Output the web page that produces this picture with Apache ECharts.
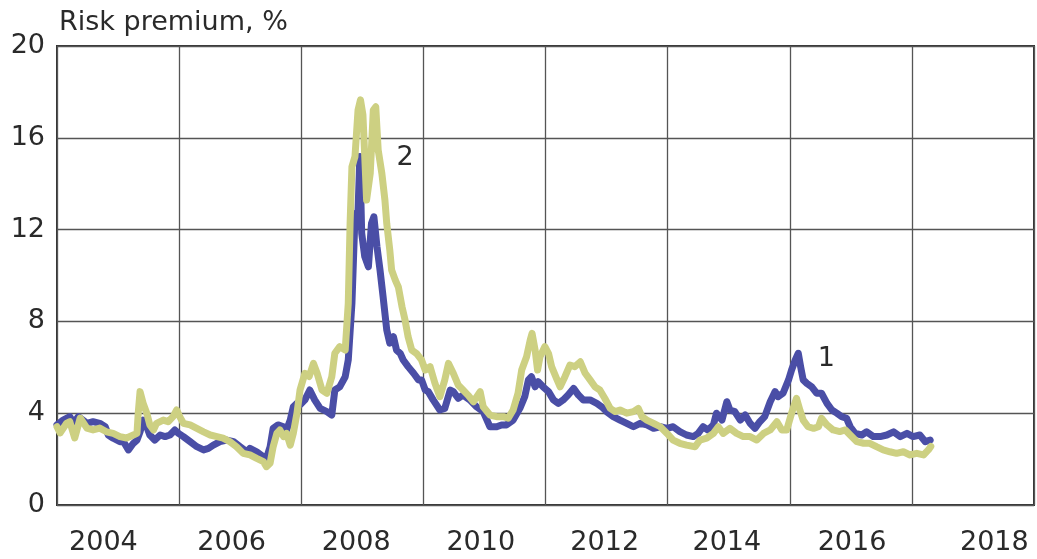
<!DOCTYPE html>
<html><head><meta charset="utf-8">
<script src="https://cdn.jsdelivr.net/npm/echarts@6.0.0/dist/echarts.min.js"></script>
<style>html,body{margin:0;padding:0;background:#fff}#c{width:1037px;height:559px}</style>
</head><body><div id="c"></div>
<script>
const yearLabels = ['2004','2006','2008','2010','2012','2014','2016','2018'];
const gridYears = [2003,2005,2007,2009,2011,2013,2015,2017,2019];
const yTickStep = 4;

// Series 1 (blue) [year, %]
const series1 = [
[2003.00,3.50],[2003.10,3.70],[2003.21,3.85],[2003.27,3.56],[2003.35,3.85],[2003.40,3.75],[2003.49,3.56],[2003.59,3.63],[2003.70,3.56],[2003.79,3.41],[2003.84,3.05],[2003.92,2.91],[2004.03,2.76],[2004.09,2.76],[2004.17,2.40],[2004.25,2.69],[2004.31,2.83],[2004.36,3.19],[2004.41,3.70],[2004.47,3.41],[2004.52,3.05],[2004.60,2.83],[2004.69,3.05],[2004.77,2.98],[2004.85,3.05],[2004.93,3.27],[2004.99,3.12],[2005.07,2.98],[2005.18,2.76],[2005.29,2.54],[2005.40,2.40],[2005.48,2.47],[2005.56,2.61],[2005.67,2.76],[2005.78,2.83],[2005.89,2.76],[2006.00,2.54],[2006.11,2.32],[2006.16,2.47],[2006.27,2.32],[2006.38,2.10],[2006.43,2.03],[2006.49,2.54],[2006.54,3.34],[2006.62,3.49],[2006.71,3.41],[2006.76,3.27],[2006.82,3.70],[2006.87,4.28],[2006.93,4.43],[2006.98,4.36],[2007.06,4.58],[2007.14,5.01],[2007.22,4.58],[2007.31,4.21],[2007.42,4.07],[2007.50,3.92],[2007.55,5.01],[2007.63,5.15],[2007.72,5.59],[2007.77,6.32],[2007.83,8.79],[2007.88,12.56],[2007.93,12.85],[2007.96,15.18],[2007.99,11.84],[2008.04,10.82],[2008.10,10.38],[2008.15,12.27],[2008.19,12.56],[2008.24,11.26],[2008.29,10.24],[2008.34,9.08],[2008.40,7.63],[2008.45,7.05],[2008.51,7.33],[2008.56,6.75],[2008.62,6.61],[2008.67,6.32],[2008.75,6.03],[2008.84,5.74],[2008.92,5.45],[2008.97,5.45],[2009.03,5.01],[2009.08,4.94],[2009.16,4.58],[2009.27,4.14],[2009.35,4.21],[2009.44,5.01],[2009.49,4.94],[2009.57,4.65],[2009.65,4.79],[2009.76,4.58],[2009.87,4.28],[2009.98,4.07],[2010.09,3.41],[2010.20,3.41],[2010.28,3.49],[2010.36,3.49],[2010.47,3.70],[2010.58,4.21],[2010.66,4.72],[2010.72,5.45],[2010.77,5.59],[2010.83,5.15],[2010.88,5.37],[2010.96,5.15],[2011.05,4.94],[2011.13,4.58],[2011.21,4.43],[2011.29,4.58],[2011.37,4.79],[2011.46,5.08],[2011.54,4.79],[2011.62,4.58],[2011.73,4.58],[2011.84,4.43],[2011.92,4.28],[2012.00,4.07],[2012.11,3.85],[2012.22,3.70],[2012.33,3.56],[2012.44,3.41],[2012.55,3.56],[2012.66,3.49],[2012.77,3.34],[2012.88,3.41],[2012.99,3.34],[2013.09,3.41],[2013.20,3.20],[2013.31,3.05],[2013.42,2.98],[2013.50,3.12],[2013.58,3.41],[2013.66,3.27],[2013.75,3.49],[2013.80,4.00],[2013.89,3.70],[2013.97,4.50],[2014.02,4.14],[2014.10,4.07],[2014.19,3.70],[2014.27,3.92],[2014.35,3.56],[2014.43,3.34],[2014.51,3.63],[2014.59,3.85],[2014.68,4.50],[2014.76,4.94],[2014.81,4.72],[2014.89,4.87],[2014.98,5.45],[2015.03,5.88],[2015.09,6.32],[2015.14,6.61],[2015.18,6.00],[2015.22,5.45],[2015.28,5.30],[2015.36,5.15],[2015.44,4.87],[2015.52,4.87],[2015.61,4.43],[2015.69,4.14],[2015.77,4.00],[2015.85,3.85],[2015.93,3.78],[2015.99,3.41],[2016.07,3.12],[2016.18,3.05],[2016.26,3.19],[2016.37,2.98],[2016.48,2.98],[2016.59,3.05],[2016.70,3.19],[2016.81,2.98],[2016.92,3.12],[2017.02,2.98],[2017.13,3.05],[2017.22,2.76],[2017.30,2.83]
];

// Series 2 (yellow-green) [year, %]
const series2 = [
[2003.00,3.41],[2003.05,3.14],[2003.16,3.57],[2003.21,3.63],[2003.29,2.92],[2003.38,3.79],[2003.49,3.35],[2003.59,3.27],[2003.70,3.35],[2003.81,3.19],[2003.92,3.12],[2004.03,2.98],[2004.14,2.92],[2004.25,3.05],[2004.31,3.12],[2004.33,4.00],[2004.36,4.94],[2004.41,4.44],[2004.47,4.00],[2004.52,3.49],[2004.58,3.27],[2004.63,3.56],[2004.74,3.70],[2004.82,3.63],[2004.90,3.85],[2004.96,4.14],[2005.01,3.85],[2005.07,3.56],[2005.18,3.49],[2005.29,3.34],[2005.40,3.19],[2005.51,3.05],[2005.62,2.98],[2005.72,2.91],[2005.83,2.76],[2005.94,2.54],[2006.05,2.25],[2006.16,2.18],[2006.27,2.03],[2006.38,1.89],[2006.43,1.67],[2006.49,1.82],[2006.54,2.54],[2006.60,3.12],[2006.65,3.27],[2006.71,2.98],[2006.76,3.12],[2006.82,2.61],[2006.87,3.12],[2006.93,4.00],[2006.98,5.01],[2007.06,5.74],[2007.13,5.60],[2007.20,6.17],[2007.26,5.74],[2007.34,5.01],[2007.42,4.87],[2007.50,5.59],[2007.55,6.61],[2007.63,6.90],[2007.72,6.75],[2007.77,8.79],[2007.80,12.27],[2007.83,14.74],[2007.88,15.18],[2007.93,17.21],[2007.97,17.65],[2008.01,17.00],[2008.04,15.18],[2008.07,13.29],[2008.13,14.45],[2008.18,17.21],[2008.22,17.35],[2008.26,15.47],[2008.32,14.45],[2008.37,13.29],[2008.40,12.27],[2008.45,11.11],[2008.48,10.24],[2008.54,9.80],[2008.59,9.50],[2008.65,8.64],[2008.70,8.06],[2008.75,7.33],[2008.81,6.75],[2008.89,6.60],[2008.97,6.32],[2009.03,5.88],[2009.11,6.03],[2009.19,5.30],[2009.27,4.72],[2009.35,5.45],[2009.41,6.17],[2009.49,5.74],[2009.57,5.23],[2009.65,5.01],[2009.73,4.79],[2009.82,4.50],[2009.93,4.94],[2009.98,4.28],[2010.09,3.92],[2010.20,3.85],[2010.31,3.85],[2010.39,3.78],[2010.47,4.14],[2010.55,4.87],[2010.61,5.88],[2010.69,6.46],[2010.75,7.19],[2010.78,7.48],[2010.83,6.75],[2010.87,5.88],[2010.91,6.46],[2010.99,6.90],[2011.05,6.60],[2011.10,6.03],[2011.18,5.52],[2011.24,5.15],[2011.32,5.60],[2011.40,6.10],[2011.48,6.03],[2011.57,6.24],[2011.65,5.74],[2011.73,5.45],[2011.81,5.15],[2011.89,5.01],[2011.97,4.65],[2012.06,4.21],[2012.14,4.07],[2012.22,4.14],[2012.33,4.00],[2012.44,4.07],[2012.52,4.21],[2012.58,3.85],[2012.66,3.70],[2012.77,3.56],[2012.88,3.41],[2012.99,3.12],[2013.09,2.83],[2013.20,2.69],[2013.31,2.61],[2013.45,2.54],[2013.53,2.83],[2013.64,2.91],[2013.75,3.12],[2013.83,3.41],[2013.91,3.12],[2014.02,3.34],[2014.13,3.12],[2014.24,2.98],[2014.35,2.98],[2014.46,2.83],[2014.57,3.12],[2014.68,3.27],[2014.79,3.63],[2014.87,3.27],[2014.95,3.27],[2015.03,4.00],[2015.11,4.65],[2015.17,4.10],[2015.22,3.70],[2015.30,3.41],[2015.39,3.34],[2015.47,3.41],[2015.52,3.78],[2015.61,3.49],[2015.71,3.27],[2015.82,3.20],[2015.91,3.27],[2015.99,3.05],[2016.10,2.76],[2016.21,2.69],[2016.31,2.69],[2016.42,2.54],[2016.53,2.40],[2016.64,2.32],[2016.75,2.25],[2016.86,2.32],[2016.97,2.18],[2017.08,2.25],[2017.19,2.18],[2017.27,2.40],[2017.31,2.55]
];

const annotation1 = {text:'1', at:[2015.60, 6.36]};
const annotation2 = {text:'2', at:[2008.70, 15.12]};

const FONT = 'DejaVu Sans';
const TXT = '#2a2a2a';
const labelAt = [2003.76, 2005.86, 2007.90, 2009.94, 2011.97, 2013.97, 2016.02, 2018.35];

const chart = echarts.init(document.getElementById('c'), null, {renderer:'canvas'});
function mp(a){
  return {silent:true, symbol:'circle', symbolSize:0, data:[{coord:a.at, value:a.text}],
    label:{show:true, position:'inside', formatter:a.text, fontFamily:FONT, fontSize:27, color:TXT}};
}
chart.setOption({
  animation:false,
  backgroundColor:'#fff',
  title:{text:'Risk premium, %', left:59, top:9, padding:0,
    textStyle:{fontFamily:FONT, fontSize:27, fontWeight:'normal', color:TXT}},
  grid:{left:57, right:3, top:46, bottom:54, show:true, borderColor:'#333', borderWidth:2},
  xAxis:[
    {type:'value', min:2003, max:2019, axisLine:{show:false},
     axisTick:{show:false, customValues:gridYears}, axisLabel:{show:false},
     splitLine:{show:true, lineStyle:{color:'#555', width:1.3}}},
    {type:'value', min:2003, max:2019, position:'bottom', axisLine:{show:false},
     axisTick:{show:false}, splitLine:{show:false},
     axisLabel:{customValues:labelAt, formatter:function(v){
        let best=0; for(let i=0;i<labelAt.length;i++){ if(Math.abs(labelAt[i]-v)<Math.abs(labelAt[best]-v)) best=i; }
        return yearLabels[best]; },
       fontFamily:FONT, fontSize:27, color:TXT, margin:24}}
  ],
  yAxis:{type:'value', min:0, max:20, interval:yTickStep, axisLine:{show:false}, axisTick:{show:false},
    splitLine:{show:true, lineStyle:{color:'#555', width:1.3}},
    axisLabel:{fontFamily:FONT, fontSize:27, color:TXT, margin:12}},
  series:[
    {type:'line', name:'1', data:series1, xAxisIndex:0, showSymbol:false, z:2,
     lineStyle:{color:'#4a4ea6', width:7, cap:'round', join:'round'}, markPoint:mp(annotation1)},
    {type:'line', name:'2', data:series2, xAxisIndex:0, showSymbol:false, z:3,
     lineStyle:{color:'#cdd082', width:7, cap:'round', join:'round'}, markPoint:mp(annotation2)}
  ]
});
</script>
</body></html>
